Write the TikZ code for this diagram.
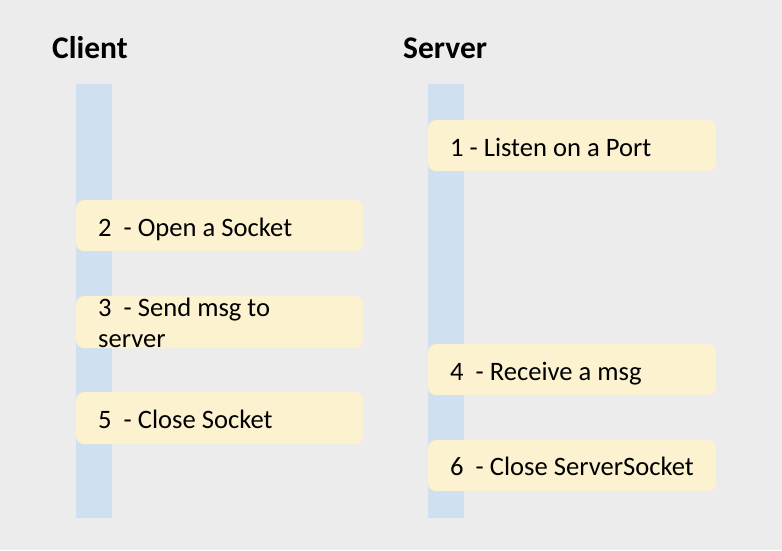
\documentclass[tikz,border=0pt]{standalone}
\usepackage{fontspec}
\setmainfont{Carlito}
\begin{document}
\begin{tikzpicture}[x=1pt,y=-1pt,
  bar/.style={fill=barblue,draw=none},
  stepbox/.style={fill=boxyellow,draw=none,rounded corners=8pt},
  lbl/.style={anchor=base west,inner sep=0pt,font=\fontsize{26.6}{31}\selectfont,align=left},
  ttl/.style={anchor=base west,inner sep=0pt,font=\fontsize{31.5}{36}\selectfont\bfseries}]
\definecolor{bg}{RGB}{236,236,236}
\definecolor{barblue}{RGB}{207,224,240}
\definecolor{boxyellow}{RGB}{253,242,208}
\useasboundingbox (0,0) rectangle (782,550);
\fill[bg] (0,0) rectangle (782,550);
\node[ttl] (tc) at (52,58) {Client};
\node[ttl] (ts) at (403,58) {Server};
\fill[bar] (76,84) rectangle (112,518);
\fill[bar] (428,84) rectangle (464,518);
\fill[stepbox] (428,120) rectangle (716,171);
\fill[stepbox] (76,200) rectangle (363,251);
\fill[stepbox] (76,296) rectangle (363,348);
\fill[stepbox] (428,344) rectangle (716,395);
\fill[stepbox] (76,392) rectangle (363,444);
\fill[stepbox] (428,440) rectangle (716,491);
\node[lbl] (l1) at (450,156) {1 - Listen on a Port};
\node[lbl] (l2) at (98,236) {2\ \ - Open a Socket};
\node[lbl] (l3) at (98,347) {3\ \ - Send msg to\\server};
\node[lbl] (l4) at (450,380) {4\ \ - Receive a msg};
\node[lbl] (l5) at (98,428) {5\ \ - Close Socket};
\node[lbl] (l6) at (450,475) {6\ \ - Close ServerSocket};
\end{tikzpicture}
\end{document}
